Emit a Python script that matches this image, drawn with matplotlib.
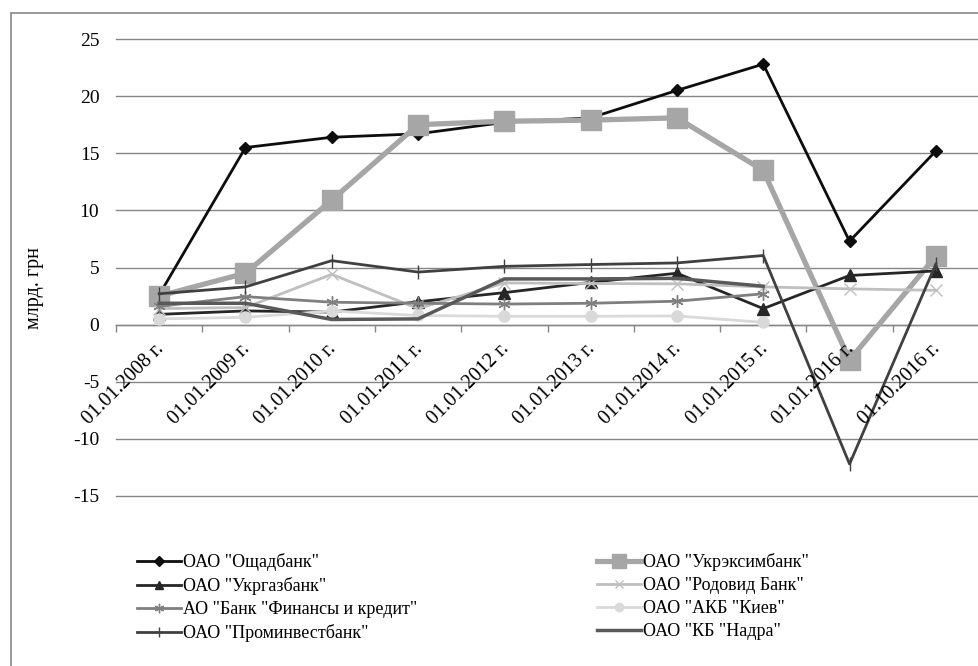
import numpy as np
import matplotlib
matplotlib.use("Agg")
import matplotlib.pyplot as plt
from matplotlib.patches import Rectangle
from matplotlib.ticker import FixedLocator
from matplotlib.transforms import ScaledTranslation

plt.rcParams['font.family'] = ['Liberation Serif', 'DejaVu Serif']
plt.rcParams['axes.unicode_minus'] = False

categories = ["01.01.2008 г.", "01.01.2009 г.", "01.01.2010 г.", "01.01.2011 г.",
              "01.01.2012 г.", "01.01.2013 г.", "01.01.2014 г.", "01.01.2015 г.",
              "01.01.2016 г.", "01.10.2016 г."]

oschadbank = [2.6, 15.5, 16.4, 16.7, 17.7, 18.1, 20.5, 22.8, 7.3, 15.2]
ukreximbank = [2.5, 4.5, 10.9, 17.5, 17.8, 17.9, 18.1, 13.5, -3.1, 6.0]
ukrgasbank = [0.9, 1.2, 1.1, 2.0, 2.8, 3.7, 4.5, 1.4, 4.3, 4.7]
rodovid = [1.4, 1.5, 4.4, 1.4, 3.65, 3.6, 3.57, 3.3, 3.13, 3.0]
finansy = [1.6, 2.45, 1.96, 1.87, 1.8, 1.87, 2.05, 2.7, np.nan, np.nan]
kiev = [0.5, 0.64, 1.2, 0.8, 0.73, 0.73, 0.76, 0.2, np.nan, np.nan]
prominvest = [2.7, 3.3, 5.6, 4.6, 5.1, 5.26, 5.4, 6.05, -12.2, 5.3]
nadra = [1.87, 1.87, 0.45, 0.5, 4.0, 4.0, 4.05, 3.36, np.nan, np.nan]

labels = ['ОАО "Ощадбанк"', 'ОАО "Укрэксимбанк"', 'ОАО "Укргазбанк"',
          'ОАО "Родовид Банк"', 'АО "Банк "Финансы и кредит"', 'ОАО "АКБ "Киев"',
          'ОАО "Проминвестбанк"', 'ОАО "КБ "Надра"']

W, H = 979, 666
fig = plt.figure(figsize=(W / 100, H / 100), dpi=100)
ax = fig.add_axes([116 / W, 1 - 496 / H, (979 - 116) / W, (496 - 39) / H])

x = np.arange(len(categories))
styles = [
    dict(color='#0d0d0d', lw=2.0, marker='D', ms=6.5),
    dict(color='#a6a6a6', lw=3.8, marker='s', ms=14),
    dict(color='#262626', lw=2.0, marker='^', ms=8),
    dict(color='#bfbfbf', lw=2.0, marker='x', ms=8, mew=1.0),
    dict(color='#7f7f7f', lw=2.0, marker=(6, 2, 0), ms=9, mew=1.0),
    dict(color='#d9d9d9', lw=2.0, marker='o', ms=8),
    dict(color='#404040', lw=2.0, marker='|', ms=10, mew=1.0),
    dict(color='#595959', lw=2.5, marker=None),
]
series = [oschadbank, ukreximbank, ukrgasbank, rodovid, finansy, kiev, prominvest, nadra]
lines = []
for s, st, lab in zip(series, styles, labels):
    l, = ax.plot(x, s, label=lab, zorder=3, **st)
    lines.append(l)

ax.set_xlim(-0.5, len(categories) - 0.5)
ax.set_ylim(-15, 25)
ax.set_yticks(np.arange(-15, 26, 5))
ax.grid(axis='y', color='#868686', lw=1.0)
for gl in ax.get_ygridlines():
    gl.set_clip_on(False)
ax.set_axisbelow(True)
for sp in ['top', 'right', 'left']:
    ax.spines[sp].set_visible(False)
ax.spines['bottom'].set_position(('data', 0))
ax.spines['bottom'].set_color('#868686')
ax.spines['bottom'].set_linewidth(1.0)

ax.xaxis.set_major_locator(FixedLocator(np.arange(-0.5, len(categories), 1.0)))
ax.xaxis.set_major_formatter(plt.NullFormatter())
ax.tick_params(axis='x', which='major', length=5, color='#868686', width=1.0, direction='out')
ax.tick_params(axis='y', length=0, pad=12, labelsize=14)

off = ScaledTranslation(-5 / 100, -15 / 100, fig.dpi_scale_trans)
for xi, c in zip(x, categories):
    ax.text(xi, 0, c, transform=ax.transData + off, rotation=45, ha='right', va='top',
            rotation_mode='anchor', fontsize=14.5, clip_on=False)

fig.text(35 / W, 1 - 288 / H, 'млрд. грн', rotation=90, ha='center', va='center', fontsize=14.5)

leg_kw = dict(loc='upper left', frameon=False, fontsize=13, handlelength=2.45,
              handletextpad=0.12, labelspacing=0.33, borderaxespad=0, borderpad=0)
leg1 = fig.legend([lines[i] for i in (0, 2, 4, 6)], [labels[i] for i in (0, 2, 4, 6)],
                  bbox_to_anchor=(137 / W, 1 - 553 / H), **leg_kw)
leg2 = fig.legend([lines[i] for i in (1, 3, 5, 7)], [labels[i] for i in (1, 3, 5, 7)],
                  bbox_to_anchor=(597 / W, 1 - 553 / H), **leg_kw)
for lg in (leg1, leg2):
    for h in lg.legend_handles:
        ms = h.get_markersize()
        h.set_markersize(ms * 0.75)

fig.add_artist(Rectangle((11 / W, -0.1), 1.2, 1.1 - 13 / H, transform=fig.transFigure,
                         fill=False, edgecolor='#868686', lw=1.2, clip_on=False))

fig.savefig('out.png', dpi=100)
